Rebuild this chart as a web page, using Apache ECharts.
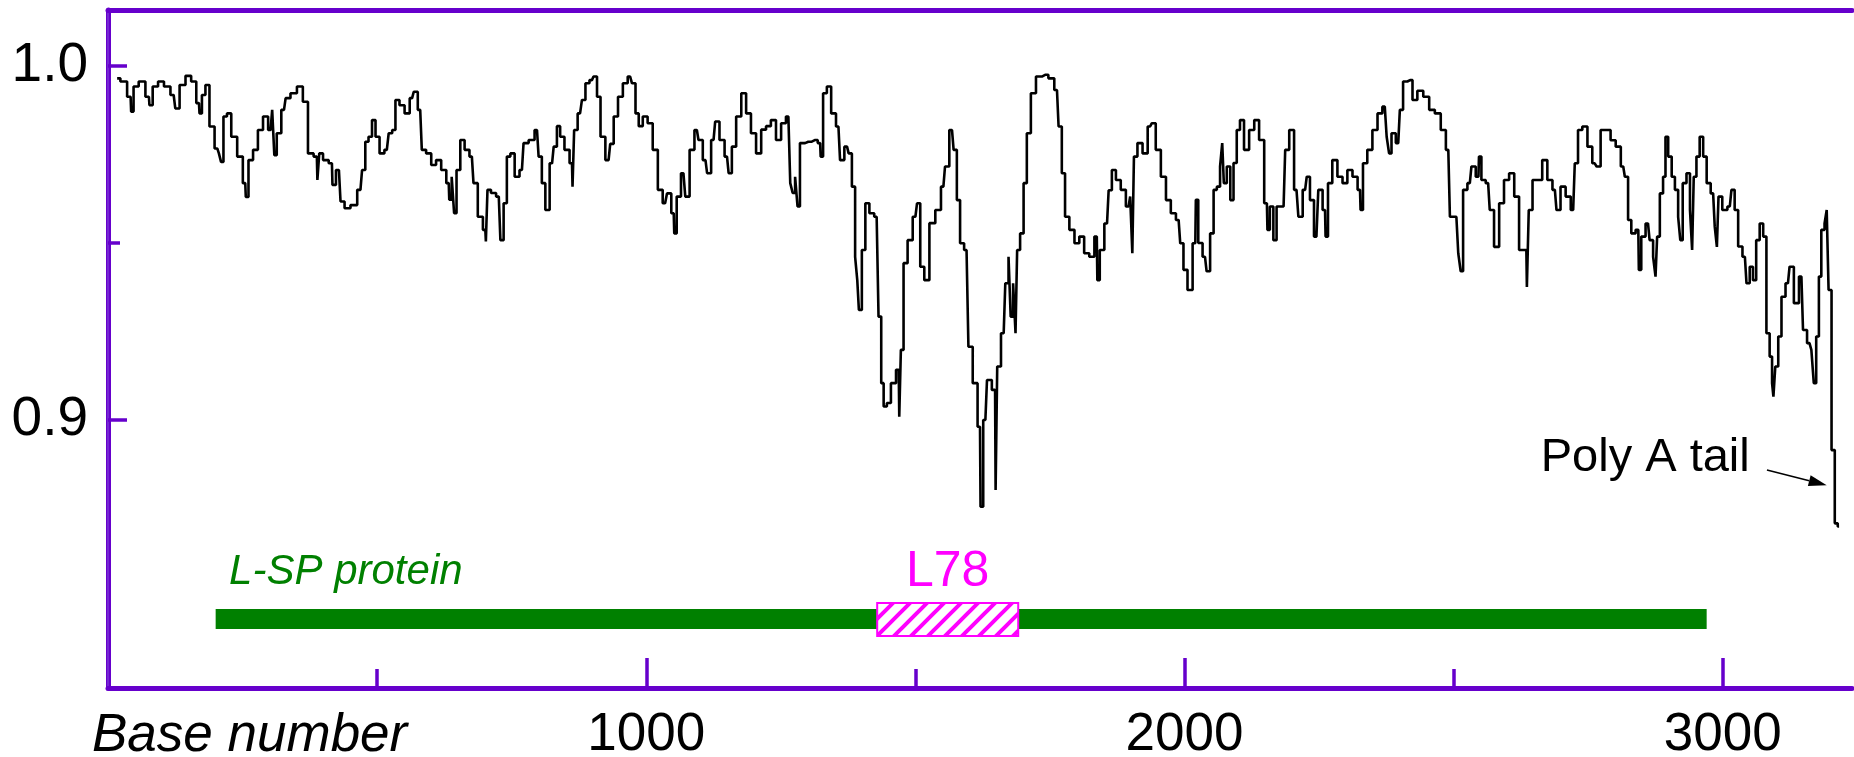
<!DOCTYPE html>
<html>
<head>
<meta charset="utf-8">
<title>Base number profile</title>
<script src="https://cdn.jsdelivr.net/npm/echarts@6/dist/echarts.min.js"></script>
<style>
  html, body { margin: 0; padding: 0; background: #fff; }
  #chart { width: 1854px; height: 757px; }
</style>
</head>
<body>
<div id="chart"></div>
<script>
// position along the sequence (base number)
const base = [
  17, 29, 42, 44, 51, 63, 76, 78, 88, 98,
  110, 122, 128, 138, 150, 159, 169, 171, 178, 184,
  193, 203, 209, 211, 218, 224, 234, 246, 255, 257,
  265, 274, 283, 293, 302, 308, 310, 317, 327, 333,
  345, 357, 367, 376, 388, 390,
  395, 404, 416, 418, 429, 435, 444, 457, 469, 475,
  481, 487, 494, 500, 509, 518, 525, 531, 537, 546,
  556, 565, 571, 580, 586, 596, 605, 614, 624, 633,
  635, 642, 644, 651, 658, 667, 676, 682, 692, 701,
  703, 707, 716, 726, 732, 738, 744, 751, 760, 769,
  775, 788, 797,
  803, 809, 816, 825, 831, 837, 843, 853, 862, 864,
  868, 877, 884, 890, 899, 905, 912, 918, 930, 936,
  943, 952, 961, 970, 977, 983, 989, 998, 1007, 1017,
  1026, 1035, 1042, 1051, 1053, 1060, 1069, 1076, 1085, 1094,
  1100, 1110, 1116, 1125, 1131, 1141, 1150, 1156, 1162, 1172,
  1181, 1190, 1199, 1209,
  1218, 1227, 1236, 1246, 1255, 1264, 1271, 1273, 1280, 1282,
  1289, 1301, 1314, 1323, 1325, 1332, 1339, 1348, 1357, 1363,
  1373, 1379, 1385, 1391, 1393, 1397, 1404, 1410, 1419, 1428,
  1435, 1438, 1444, 1450, 1459, 1469, 1471, 1475, 1481, 1490,
  1500, 1506, 1512, 1521, 1531, 1543, 1552, 1558, 1568, 1574,
  1580, 1586, 1595, 1602, 1611, 1620, 1622, 1630, 1636,
  1648, 1650, 1654, 1664, 1670, 1676, 1678, 1685, 1687, 1691,
  1698, 1704, 1710, 1719, 1729, 1741, 1753, 1763, 1769, 1775,
  1781, 1791, 1800, 1809, 1818, 1828, 1837, 1839, 1846, 1856,
  1862, 1868, 1877, 1886, 1896, 1902, 1904, 1908, 1917, 1927,
  1936, 1942, 1951, 1961, 1970, 1979, 1989, 1995, 2001, 2010,
  2020, 2022, 2029, 2038, 2044,
  2051, 2057, 2063, 2069, 2071, 2075, 2082, 2088, 2094, 2100,
  2106, 2115, 2125, 2134, 2143, 2153, 2155, 2162, 2168, 2174,
  2184, 2190, 2199, 2208, 2215, 2224, 2230, 2236, 2245, 2252,
  2261, 2263, 2270, 2279, 2289, 2298, 2307, 2317, 2326, 2328,
  2335, 2344, 2354, 2363, 2372, 2379, 2381, 2388, 2397, 2403,
  2409, 2419, 2428, 2437,
  2450, 2459, 2471, 2481, 2490, 2496, 2505, 2512, 2514, 2521,
  2530, 2536, 2546, 2548, 2555, 2564, 2570, 2580, 2589, 2598,
  2608, 2617, 2626, 2635, 2637, 2642, 2651, 2660, 2669, 2679,
  2688, 2694, 2703, 2713, 2722, 2728, 2734, 2744, 2753, 2762,
  2769, 2777, 2787, 2796, 2806,
  2815, 2821, 2827, 2833, 2843, 2845, 2852, 2861, 2867, 2874,
  2876, 2880, 2886, 2892, 2895, 2902, 2908, 2914, 2920, 2922,
  2929, 2936, 2942, 2944, 2948, 2954, 2960, 2967, 2973, 2982,
  2988, 2990, 2994, 3004, 3013, 3019, 3025, 3032, 3041, 3047,
  3053, 3059, 3065, 3072, 3078, 3084, 3090, 3093, 3095, 3100,
  3106, 3112, 3121, 3127, 3137, 3146, 3152, 3161, 3168, 3170,
  3177, 3180, 3186, 3192, 3194, 3199, 3205, 3211, 3216
];

// plotted value at each base
const ratio = [
  0.9965, 0.9956, 0.9913, 0.9871, 0.9942, 0.9956, 0.9913, 0.9889, 0.9942, 0.9956,
  0.9942, 0.9918, 0.9880, 0.9946, 0.9972, 0.9956, 0.9895, 0.9866, 0.9918, 0.9946,
  0.9829, 0.9767, 0.9753, 0.9729, 0.9857, 0.9866, 0.9800, 0.9744, 0.9669, 0.9630,
  0.9734, 0.9763, 0.9819, 0.9857, 0.9819, 0.9876, 0.9748, 0.9810, 0.9876, 0.9909,
  0.9923, 0.9942, 0.9899, 0.9753, 0.9744, 0.9678,
  0.9753, 0.9734, 0.9725, 0.9664, 0.9706, 0.9617, 0.9598, 0.9607, 0.9650, 0.9706,
  0.9786, 0.9800, 0.9847, 0.9800, 0.9753, 0.9763, 0.9810, 0.9819, 0.9904, 0.9889,
  0.9866, 0.9909, 0.9927, 0.9876, 0.9763, 0.9753, 0.9720, 0.9734, 0.9706, 0.9669,
  0.9622, 0.9687, 0.9584, 0.9706, 0.9791, 0.9763, 0.9744, 0.9669, 0.9574, 0.9537,
  0.9504, 0.9650, 0.9641, 0.9631, 0.9508, 0.9612, 0.9744, 0.9753, 0.9687, 0.9706,
  0.9782, 0.9791, 0.9819,
  0.9744, 0.9669, 0.9593, 0.9725, 0.9772, 0.9830, 0.9800, 0.9763, 0.9725, 0.9659,
  0.9819, 0.9866, 0.9904, 0.9951, 0.9960, 0.9970, 0.9913, 0.9800, 0.9734, 0.9780,
  0.9857, 0.9913, 0.9951, 0.9970, 0.9951, 0.9866, 0.9830, 0.9857, 0.9838, 0.9763,
  0.9650, 0.9612, 0.9640, 0.9584, 0.9527, 0.9631, 0.9697, 0.9631, 0.9763, 0.9819,
  0.9791, 0.9734, 0.9697, 0.9791, 0.9843, 0.9791, 0.9744, 0.9697, 0.9772, 0.9857,
  0.9923, 0.9866, 0.9810, 0.9753,
  0.9820, 0.9830, 0.9847, 0.9791, 0.9838, 0.9857, 0.9669, 0.9641, 0.9687, 0.9603,
  0.9782, 0.9786, 0.9791, 0.9782, 0.9744, 0.9923, 0.9942, 0.9866, 0.9829, 0.9734,
  0.9772, 0.9753, 0.9659, 0.9461, 0.9395, 0.9311, 0.9480, 0.9612, 0.9584, 0.9574,
  0.9292, 0.9104, 0.9038, 0.9048, 0.9104, 0.9142, 0.9009, 0.9198, 0.9443, 0.9508,
  0.9574, 0.9612, 0.9433, 0.9395, 0.9556, 0.9593, 0.9659, 0.9716, 0.9819, 0.9763,
  0.9621, 0.9499, 0.9480, 0.9207, 0.9104, 0.8981, 0.8755, 0.9000, 0.9113,
  0.9085, 0.8802, 0.9151, 0.9245, 0.9386, 0.9461, 0.9292, 0.9386, 0.9245, 0.9480,
  0.9527, 0.9669, 0.9810, 0.9923, 0.9970, 0.9975, 0.9965, 0.9932, 0.9829, 0.9697,
  0.9574, 0.9537, 0.9499, 0.9518, 0.9471, 0.9461, 0.9518, 0.9395, 0.9480, 0.9555,
  0.9649, 0.9706, 0.9678, 0.9650, 0.9603, 0.9631, 0.9471, 0.9744, 0.9782, 0.9753,
  0.9829, 0.9838, 0.9763, 0.9687, 0.9621, 0.9584, 0.9565, 0.9499, 0.9424, 0.9367,
  0.9499, 0.9622, 0.9500, 0.9461, 0.9420,
  0.9527, 0.9650, 0.9659, 0.9716, 0.9782, 0.9669, 0.9716, 0.9621, 0.9726, 0.9819,
  0.9847, 0.9763, 0.9819, 0.9847, 0.9791, 0.9612, 0.9537, 0.9603, 0.9508, 0.9603,
  0.9603, 0.9763, 0.9819, 0.9650, 0.9574, 0.9650, 0.9687, 0.9621, 0.9518, 0.9650,
  0.9593, 0.9518, 0.9669, 0.9734, 0.9687, 0.9669, 0.9706, 0.9687, 0.9650, 0.9593,
  0.9725, 0.9763, 0.9819, 0.9866, 0.9885, 0.9800, 0.9753, 0.9810, 0.9782, 0.9876,
  0.9956, 0.9960, 0.9904, 0.9930,
  0.9913, 0.9876, 0.9866, 0.9819, 0.9763, 0.9574, 0.9574, 0.9471, 0.9420, 0.9650,
  0.9669, 0.9716, 0.9687, 0.9744, 0.9678, 0.9669, 0.9593, 0.9489, 0.9612, 0.9678,
  0.9697, 0.9631, 0.9480, 0.9480, 0.9376, 0.9593, 0.9678, 0.9678, 0.9734, 0.9678,
  0.9650, 0.9593, 0.9659, 0.9631, 0.9593, 0.9725, 0.9819, 0.9829, 0.9772, 0.9725,
  0.9716, 0.9819, 0.9819, 0.9790, 0.9772,
  0.9716, 0.9687, 0.9565, 0.9527, 0.9537, 0.9424, 0.9518, 0.9555, 0.9508, 0.9461,
  0.9405, 0.9518, 0.9640, 0.9687, 0.9800, 0.9744, 0.9687, 0.9650, 0.9574, 0.9508,
  0.9669, 0.9697, 0.9593, 0.9480, 0.9687, 0.9744, 0.9800, 0.9744, 0.9669, 0.9640,
  0.9546, 0.9489, 0.9631, 0.9593, 0.9603, 0.9650, 0.9593, 0.9490, 0.9461, 0.9386,
  0.9433, 0.9395, 0.9508, 0.9555, 0.9518, 0.9245, 0.9179, 0.9104, 0.9066, 0.9151,
  0.9236, 0.9348, 0.9386, 0.9433, 0.9330, 0.9405, 0.9254, 0.9217, 0.9198, 0.9104,
  0.9236, 0.9405, 0.9537, 0.9555, 0.9593, 0.9367, 0.8915, 0.8708, 0.8699
];

// tick labels
const majorX = [1000, 2000, 3000];
const minorX = [500, 1500, 2500];
const majorY = [0.9, 1.0];
const minorY = [0.95];

// annotations, in data units
const proteinSpan = [200, 2970];
const proteinLevel = 0.8438;
const proteinLabel = 'L-SP protein';
const l78Span = [1429, 1691];
const l78Range = [0.839, 0.8483];
const l78Label = 'L78';
const polyLabel = 'Poly A tail';
const polyArrow = [3082, 0.8859, 3193, 0.8816];

const xMin = 0, xMax = 3240;
const yMin = 0.8243, yMax = 1.0158;

const purple = '#6600cc';
const green = '#008000';
const magenta = '#ff00ff';
const font = '"Liberation Sans", Arial, Helvetica, sans-serif';

const points = base.slice(0, Math.min(base.length, ratio.length)).map((b, i) => [b, ratio[i]]);

// diagonal hatch for the L78 box
function hatch() {
  const s = 17;
  const c = document.createElement('canvas');
  c.width = s; c.height = s;
  const g = c.getContext('2d');
  g.fillStyle = '#fff';
  g.fillRect(0, 0, s, s);
  g.strokeStyle = magenta;
  g.lineWidth = 4;
  g.beginPath();
  g.moveTo(-2, s + 2); g.lineTo(s + 2, -2);
  g.moveTo(-4, 4); g.lineTo(4, -4);
  g.moveTo(s - 4, s + 4); g.lineTo(s + 4, s - 4);
  g.stroke();
  return { image: c, repeat: 'repeat' };
}

function hiddenAxis(extra) {
  return Object.assign({
    type: 'value',
    axisLine: { show: false },
    axisTick: { show: false },
    axisLabel: { show: false },
    splitLine: { show: false }
  }, extra);
}

const chartDom = document.getElementById('chart');
const myChart = echarts.init(chartDom);

const option = {
  animation: false,
  backgroundColor: '#fff',
  grid: { left: 108, right: 2, top: 10, bottom: 69, outerBoundsMode: 'none' },
  xAxis: [
    {
      type: 'value', min: xMin, max: xMax, position: 'bottom',
      axisLine: { lineStyle: { color: purple, width: 5 } },
      axisTick: { inside: true, length: 30, customValues: majorX, lineStyle: { color: purple, width: 3.5 } },
      axisLabel: {
        customValues: majorX, color: '#000', fontSize: 53, fontFamily: font, margin: 21,
        formatter: v => String(v)
      },
      splitLine: { show: false }
    },
    hiddenAxis({
      min: xMin, max: xMax, position: 'bottom',
      axisTick: { show: true, inside: true, length: 19, customValues: minorX, lineStyle: { color: purple, width: 3.5 } }
    }),
    hiddenAxis({
      min: xMin, max: xMax, position: 'top',
      axisLine: { show: true, lineStyle: { color: purple, width: 5 } }
    })
  ],
  yAxis: [
    {
      type: 'value', min: yMin, max: yMax, position: 'left',
      axisLine: { show: true, lineStyle: { color: purple, width: 5 } },
      axisTick: { show: true, inside: true, length: 19, customValues: majorY, lineStyle: { color: purple, width: 3.5 } },
      axisLabel: {
        customValues: majorY, color: '#000', fontSize: 55, fontFamily: font, margin: 20,
        formatter: v => v.toFixed(1)
      },
      splitLine: { show: false }
    },
    hiddenAxis({
      min: yMin, max: yMax, position: 'left',
      axisTick: { show: true, inside: true, length: 12, customValues: minorY, lineStyle: { color: purple, width: 3.5 } }
    }),
    hiddenAxis({
      min: yMin, max: yMax, position: 'right',
      axisLine: { show: true, lineStyle: { color: '#7a33d6', width: 1.5 } }
    })
  ],
  graphic: [
    {
      type: 'text', left: 92, top: 710,
      style: { text: 'Base number', fill: '#000', font: 'italic 53px ' + font }
    }
  ],
  series: [
    {
      name: 'profile',
      type: 'line',
      data: points,
      step: 'middle',
      showSymbol: false,
      symbol: 'none',
      sampling: false,
      lineStyle: { color: '#000', width: 2.6 },
      z: 3
    },
    {
      name: 'protein',
      type: 'line',
      data: [[proteinSpan[0], proteinLevel], [proteinSpan[1], proteinLevel]],
      showSymbol: false,
      symbol: 'none',
      lineStyle: { color: green, width: 20, cap: 'butt' },
      z: 2
    },
    {
      name: 'labels',
      type: 'custom',
      z: 4,
      data: [[l78Span[0], l78Range[1], l78Span[1], l78Range[0]]],
      renderItem: (params, api) => {
        const p0 = api.coord([api.value(0), api.value(1)]);
        const p1 = api.coord([api.value(2), api.value(3)]);
        const textY = api.coord([0, 0.857])[1];
        const protX = api.coord([225, 0])[0];
        const poly = api.coord([3050, 0.8893]);
        return {
          type: 'group',
          children: [
            {
              type: 'rect',
              shape: { x: p0[0], y: p0[1], width: p1[0] - p0[0], height: p1[1] - p0[1] },
              style: { fill: hatch(), stroke: magenta, lineWidth: 2 }
            },
            {
              type: 'text', x: (p0[0] + p1[0]) / 2, y: textY,
              style: { text: l78Label, fill: magenta, font: '50px ' + font, align: 'center', verticalAlign: 'middle' }
            },
            {
              type: 'text', x: protX, y: textY,
              style: { text: proteinLabel, fill: green, font: 'italic 42px ' + font, align: 'left', verticalAlign: 'middle' }
            },
            {
              type: 'text', x: poly[0], y: poly[1],
              style: { text: polyLabel, fill: '#000', font: '47px ' + font, align: 'right', verticalAlign: 'middle' }
            }
          ]
        };
      }
    },
    {
      name: 'arrow',
      type: 'custom',
      z: 4,
      data: [polyArrow],
      renderItem: (params, api) => {
        const a = api.coord([api.value(0), api.value(1)]);
        const b = api.coord([api.value(2), api.value(3)]);
        const dx = b[0] - a[0], dy = b[1] - a[1];
        const len = Math.hypot(dx, dy);
        const ux = dx / len, uy = dy / len;
        const head = 18, half = 5.5;
        const hx = b[0] - ux * head, hy = b[1] - uy * head;
        return {
          type: 'group',
          children: [
            { type: 'line', shape: { x1: a[0], y1: a[1], x2: hx, y2: hy }, style: { stroke: '#000', lineWidth: 1.6 } },
            {
              type: 'polygon',
              shape: { points: [[b[0], b[1]], [hx - uy * half, hy + ux * half], [hx + uy * half, hy - ux * half]] },
              style: { fill: '#000' }
            }
          ]
        };
      }
    }
  ]
};

myChart.setOption(option);
window.addEventListener('resize', () => myChart.resize());
</script>
</body>
</html>
